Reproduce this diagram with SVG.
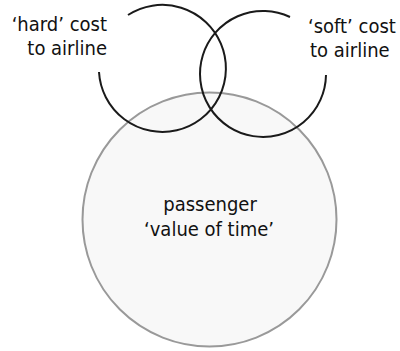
<svg xmlns="http://www.w3.org/2000/svg" width="400" height="351" viewBox="0 0 400 351">
<style>
.lbl{font-family:"DejaVu Sans Condensed","DejaVu Sans",sans-serif;font-stretch:condensed;font-size:20px;fill:#111}
.arc{fill:none;stroke:#1a1a1a;stroke-width:2}
</style>
<rect width="400" height="351" fill="#fff"/>
<g id="passenger">
<circle cx="209.5" cy="219.5" r="127" fill="#f8f8f8" stroke="#999" stroke-width="2"/>
<text class="lbl" text-anchor="middle"><tspan x="210" y="211">passenger</tspan><tspan x="209" y="236">‘value of time’</tspan></text>
</g>
<g id="hard">
<path class="arc" d="M99,72 A63.5,63.5 0 1 0 128,15"/>
<text class="lbl" text-anchor="end"><tspan x="107" y="31">‘hard’ cost</tspan><tspan x="107" y="55">to airline</tspan></text>
</g>
<g id="soft">
<path class="arc" d="M290,17 A63,63 0 1 0 326,75"/>
<text class="lbl"><tspan x="308" y="33">‘soft’ cost</tspan><tspan x="310" y="57">to airline</tspan></text>
</g>
</svg>
